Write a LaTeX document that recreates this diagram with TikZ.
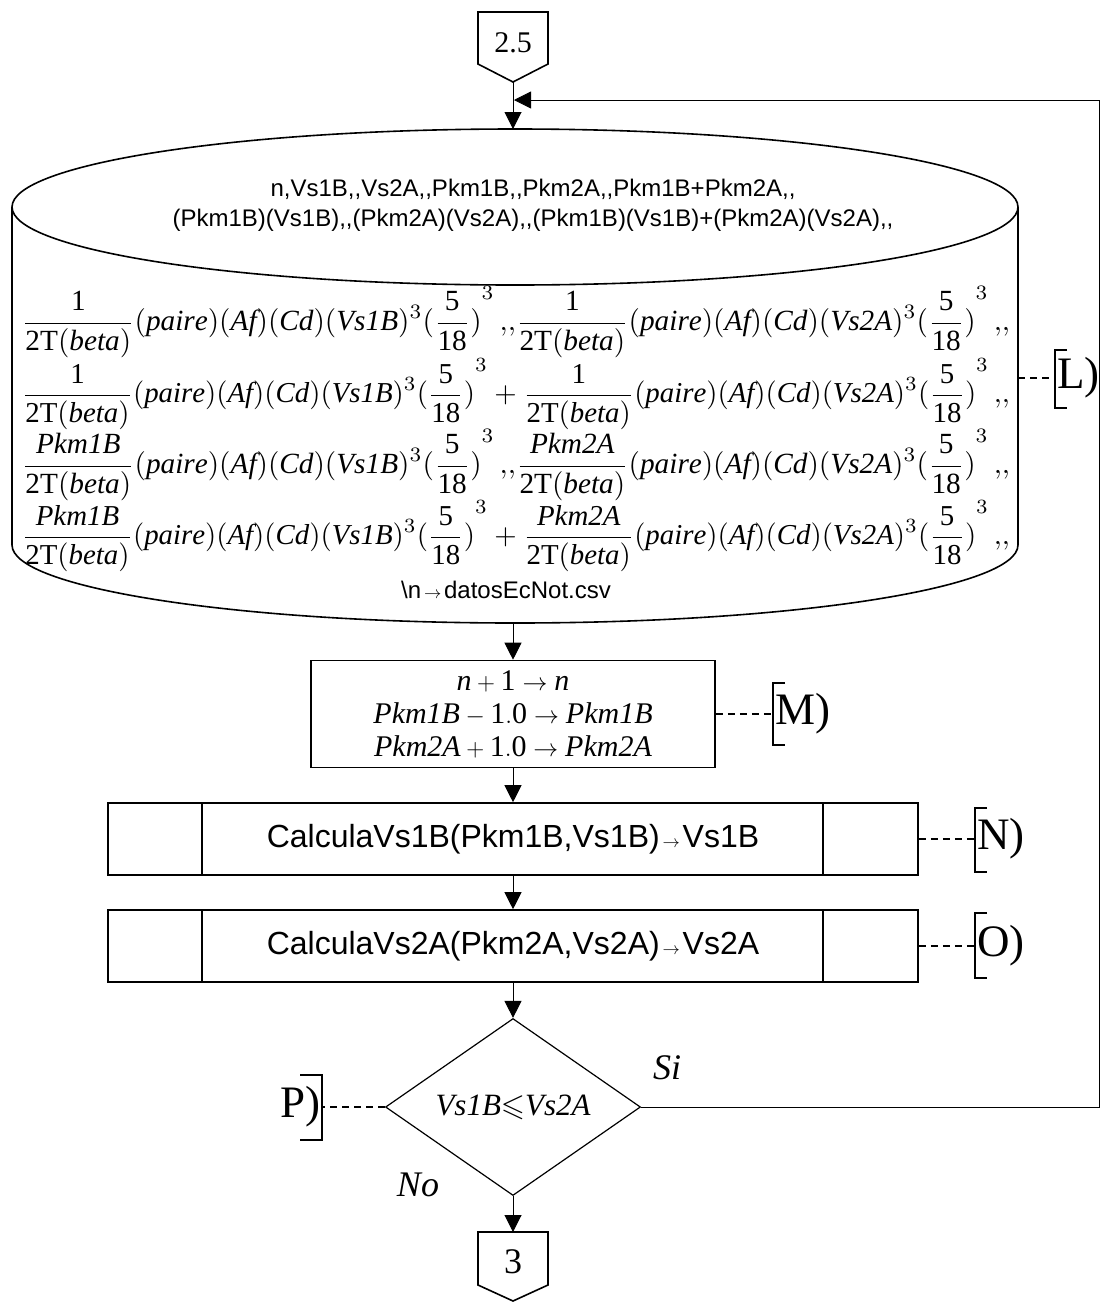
\documentclass[tikz,border=0pt]{standalone}
\usepackage{amssymb}
\usepackage{fontspec}
\setmainfont{Liberation Serif}
\newfontfamily\sansf{Liberation Sans}
\usetikzlibrary{arrows.meta,shapes.geometric}
\newcommand\tb{\mathrm{2T}(\mathit{beta})}
\newcommand\fact{(\mathit{paire})(\mathit{Af})(\mathit{Cd})}
\newcommand\ff{{(\frac{\mathrm{5}}{\mathrm{18}})}^{3}}
\newcommand\cc{\,{,}{,}}
\newcommand\smallarr{{\fontsize{17}{17}\selectfont\,$\rightarrow$\,}}
\begin{document}
\begin{tikzpicture}[x=1pt,y=-1pt,
  shapeline/.style={line width=1.6pt},
  flow/.style={line width=1pt,-{Triangle[length=17pt,width=17pt]}},
  proc/.style={draw,line width=1.6pt,inner sep=0pt},
  annot/.style={line width=1.2pt,dash pattern=on 7pt off 5pt},
  brk/.style={line width=1.6pt},
  lbl/.style={font=\fontsize{45}{45}\selectfont,inner sep=0pt,anchor=west},
  mathrow/.style={inner sep=0pt}]
\useasboundingbox (0,0) rectangle (1101,1302);

% off-page connector 2.5
\draw[shapeline] (478,12) -- (548,12) -- (548,64) -- (513,82) -- (478,64) -- cycle;
\node[font=\fontsize{30}{30}\selectfont] (c25) at (513,43) {2.5};
\coordinate (c25tip) at (513,82);

% data store (cylinder)
\coordinate (cylTop) at (513,129);
\coordinate (cylBot) at (513,623);
\coordinate (cylR) at (1018,378);
\draw[shapeline] (515,207) ellipse[x radius=503pt,y radius=78pt];
\draw[shapeline] (12,207) -- (12,545) arc[start angle=180,end angle=360,x radius=503pt,y radius=78pt] -- (1018,207);
\node[align=center,font=\sansf\fontsize{24}{30}\selectfont] (hdr) at (533,205)
  {n,Vs1B,,Vs2A,,Pkm1B,,Pkm2A,,Pkm1B+Pkm2A,,\\(Pkm1B)(Vs1B),,(Pkm2A)(Vs2A),,(Pkm1B)(Vs1B)+(Pkm2A)(Vs2A),,};
\node[mathrow] (r1) at (516,322) {\resizebox{988pt}{!}{$\displaystyle \frac{\mathrm{1}}{\tb}\fact(\mathit{Vs1B})^3\ff\cc\frac{\mathrm{1}}{\tb}\fact(\mathit{Vs2A})^3\ff\cc$}};
\node[mathrow] (r2) at (516,394) {\resizebox{988pt}{!}{$\displaystyle \frac{\mathrm{1}}{\tb}\fact(\mathit{Vs1B})^3\ff+\frac{\mathrm{1}}{\tb}\fact(\mathit{Vs2A})^3\ff\cc$}};
\node[mathrow] (r3) at (516,465) {\resizebox{988pt}{!}{$\displaystyle \frac{\mathit{Pkm1B}}{\tb}\fact(\mathit{Vs1B})^3\ff\cc\frac{\mathit{Pkm2A}}{\tb}\fact(\mathit{Vs2A})^3\ff\cc$}};
\node[mathrow] (r4) at (516,536) {\resizebox{988pt}{!}{$\displaystyle \frac{\mathit{Pkm1B}}{\tb}\fact(\mathit{Vs1B})^3\ff+\frac{\mathit{Pkm2A}}{\tb}\fact(\mathit{Vs2A})^3\ff\cc$}};
\node[font=\sansf\fontsize{24}{24}\selectfont] (csv) at (506,590) {\textbackslash n\smallarr datosEcNot.csv};

% process box
\node[proc,minimum width=404pt,minimum height=107pt,align=center,font=\fontsize{30}{33}\selectfont] (M) at (513,714)
  {$\mathit{n}+\mathrm{1}\rightarrow \mathit{n}$\\$\mathit{Pkm1B}-\mathrm{1.0}\rightarrow \mathit{Pkm1B}$\\$\mathit{Pkm2A}+\mathrm{1.0}\rightarrow \mathit{Pkm2A}$};

% predefined processes
\node[proc,minimum width=810pt,minimum height=72pt,font=\sansf\fontsize{32}{32}\selectfont] (N) at (513,839)
  {CalculaVs1B(Pkm1B,Vs1B)\smallarr Vs1B};
\draw[shapeline] ([xshift=95pt]N.north west) -- ([xshift=95pt]N.south west);
\draw[shapeline] ([xshift=-96pt]N.north east) -- ([xshift=-96pt]N.south east);
\node[proc,minimum width=810pt,minimum height=72pt,font=\sansf\fontsize{32}{32}\selectfont] (O) at (513,946)
  {CalculaVs2A(Pkm2A,Vs2A)\smallarr Vs2A};
\draw[shapeline] ([xshift=95pt]O.north west) -- ([xshift=95pt]O.south west);
\draw[shapeline] ([xshift=-96pt]O.north east) -- ([xshift=-96pt]O.south east);

% decision
\node[draw,diamond,line width=1.2pt,aspect=1.44,minimum width=255pt,minimum height=177pt,inner sep=0pt,font=\fontsize{31}{31}\selectfont] (D) at (513,1107)
  {$\mathit{Vs1B}{\leqslant}\mathit{Vs2A}$};
\node[font=\itshape\fontsize{36}{36}\selectfont] (si) at (667,1068) {Si};
\node[font=\itshape\fontsize{36}{36}\selectfont] (no) at (418,1185) {No};

% off-page connector 3
\coordinate (c3top) at (513,1232);
\draw[shapeline] (478,1232) -- (548,1232) -- (548,1285) -- (513,1301) -- (478,1285) -- cycle;
\node[font=\fontsize{36}{36}\selectfont] (c3) at (513,1262) {3};

% flow lines
\draw[flow] (c25tip) -- (cylTop);
\draw[flow] (cylBot) -- (M.north);
\draw[flow] (M.south) -- (N.north);
\draw[flow] (N.south) -- (O.north);
\draw[flow] (O.south) -- (D.north);
\draw[flow] (D.south) -- (c3top);
\coordinate (loopA) at (1099,1107);
\coordinate (loopB) at (1099,100);
\coordinate (loopEnd) at (514,100);
\draw[flow,line width=0.8pt] (D.east) -- (loopA) -- (loopB) -- (loopEnd);

% annotations
\coordinate (Lb) at (1055,378);
\draw[annot] (cylR) -- (Lb);
\draw[brk] (1067,350) -- (1055,350) -- (1055,408) -- (1067,408);
\node[lbl] (Lt) at (1057,378) {L)};

\coordinate (Mb) at (773,714);
\draw[annot] (M.east) -- (Mb);
\draw[brk] (785,683) -- (773,683) -- (773,745) -- (785,745);
\node[lbl] (Mt) at (775,714) {M)};

\coordinate (Nb) at (975,839);
\draw[annot] (N.east) -- (Nb);
\draw[brk] (987,808) -- (975,808) -- (975,872) -- (987,872);
\node[lbl] (Nt) at (977,839) {N)};

\coordinate (Ob) at (975,946);
\draw[annot] (O.east) -- (Ob);
\draw[brk] (987,913) -- (975,913) -- (975,978) -- (987,978);
\node[lbl] (Ot) at (977,946) {O)};

\coordinate (Pb) at (322,1107);
\draw[annot] (D.west) -- (Pb);
\draw[brk] (300,1075) -- (322,1075) -- (322,1140) -- (300,1140);
\node[lbl,anchor=east] (Pt) at (321,1107) {P)};
\end{tikzpicture}
\end{document}
